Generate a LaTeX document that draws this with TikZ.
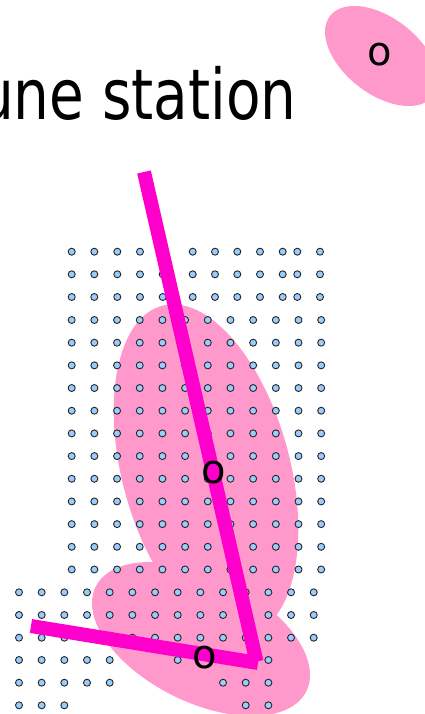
\documentclass[tikz,border=0pt]{standalone}
\usepackage{fontspec}
\setmainfont{DejaVu Sans}
\definecolor{ellpink}{HTML}{FF99CC}
\definecolor{linemag}{HTML}{FF00CC}
\definecolor{dotblue}{HTML}{99CCFF}
\tikzset{
  griddot/.style={fill=dotblue, draw=black!85, line width=0.9pt},
  magline/.style={draw=linemag, line width=14pt, line cap=butt},
  marklabel/.style={inner sep=0pt, font=\fontsize{40pt}{48pt}\selectfont},
  errell/.style={fill=ellpink}
}
\begin{document}
\begin{tikzpicture}[x=1pt,y=-1pt]
\useasboundingbox (0,0) rectangle (425,714);
\clip (0,0) rectangle (425,714);
% title fragment
\node[anchor=base east, inner sep=0pt, font=\fontsize{70pt}{84pt}\selectfont] (title) at (297,120) {\scalebox{0.807}[1]{une station}};
% error ellipses
\fill[errell, rotate around={-37.9:(381.5,56)}] (381.5,56) ellipse [x radius=65.2pt, y radius=38pt];
\fill[errell, rotate around={-75:(206,470)}] (206,470) ellipse [x radius=170pt, y radius=84pt];
\fill[errell, rotate around={-26.4:(201,639)}] (201,639) ellipse [x radius=117.6pt, y radius=63.1pt];
% upper grid, first three rows
\foreach \yy in {251.7,274.3,297} {
  \foreach \xx in {71.7,94.3,117.3,140,162.7,192.7,215,237.3,260,282.7,297.3,320} {
    \filldraw[griddot] (\xx,\yy) circle[radius=3.5pt];
  }
}
% upper grid, main rows
\foreach \j in {0,...,11} {
  \foreach \i in {0,...,11} {
    \filldraw[griddot] (71.7+22.68*\i, 320+22.68*\j) circle[radius=3.5pt];
  }
}
% lower grid full rows
\foreach \yy in {592.3,615,637.7} {
  \foreach \i in {0,...,13} {
    \filldraw[griddot] (19+22.67*\i, \yy) circle[radius=3.5pt];
  }
}
\foreach \i in {0,1,2,3,4,7,11} {
  \filldraw[griddot] (19+22.67*\i, 660) circle[radius=3.5pt];
}
\foreach \i in {0,1,2,3,4,9,10,11} {
  \filldraw[griddot] (19+22.67*\i, 682.7) circle[radius=3.5pt];
}
\foreach \i in {0,1,2,10,11} {
  \filldraw[griddot] (19+22.67*\i, 705.3) circle[radius=3.5pt];
}
% path segments
\coordinate (l1a) at (144,172);
\coordinate (l1b) at (256.5,661.6);
\coordinate (l2a) at (31,626);
\coordinate (l2b) at (258,663);
\draw[magline] (l1a) -- (l1b);
\draw[magline] (l2a) -- (l2b);
% position markers
\node[marklabel] (otop) at (380,55) {o};
\node[marklabel] (omid) at (213.5,472.5) {o};
\node[marklabel] (obot) at (205,657.5) {o};
\end{tikzpicture}
\end{document}
